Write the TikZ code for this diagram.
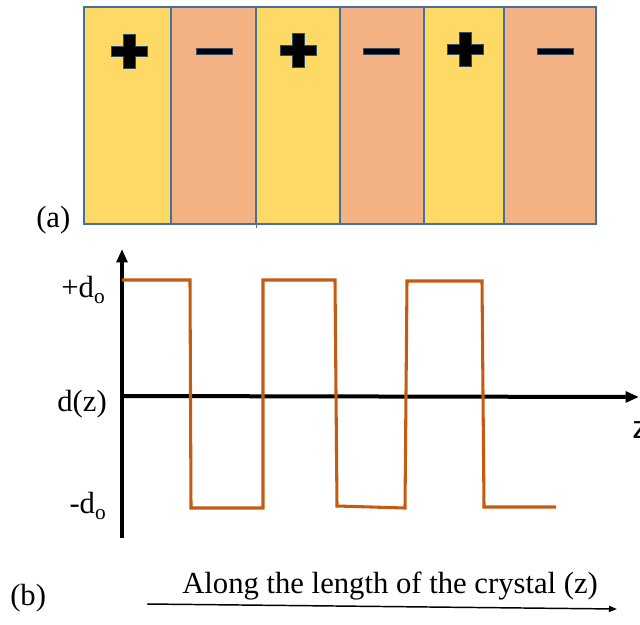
\documentclass[tikz,border=0pt]{standalone}
\usepackage{fontspec}
\setmainfont{Liberation Serif}
\newfontfamily\zfont{Liberation Sans}
\usetikzlibrary{arrows.meta}
\definecolor{stripeY}{HTML}{FFD966}
\definecolor{stripeO}{HTML}{F4B183}
\definecolor{edgeB}{HTML}{41719C}
\definecolor{waveC}{HTML}{C55A11}
\tikzset{
  stripe/.style={draw=edgeB, line width=0.8pt},
  signmark/.style={fill=black, draw=edgeB!70!black, line width=0.6pt},
  lbl/.style={inner sep=0pt, font=\fontsize{23}{26}\selectfont},
  axisline/.style={line width=3pt, -{Triangle[length=10pt,width=8pt]}},
  wave/.style={draw=waveC, line width=2.3pt, line join=miter}
}
\newcommand{\subo}{\raisebox{-4.5pt}{\fontsize{16}{16}\selectfont o}}
\newcommand{\plusat}[2]{%
  \fill[signmark] ({#1-18},{#2-5}) -- ({#1-6},{#2-5}) -- ({#1-6},{#2-17}) -- ({#1+6},{#2-17}) -- ({#1+6},{#2-5}) -- ({#1+18},{#2-5}) -- ({#1+18},{#2+5}) -- ({#1+6},{#2+5}) -- ({#1+6},{#2+17}) -- ({#1-6},{#2+17}) -- ({#1-6},{#2+5}) -- ({#1-18},{#2+5}) -- cycle;}
\newcommand{\minusat}[3]{%
  \fill[signmark] (#1,{#3-3}) rectangle (#2,{#3+3});}
\begin{document}
\begin{tikzpicture}[x=0.75pt,y=-0.75pt]
\useasboundingbox (0,0) rectangle (640,625);
% (a) stripes
\filldraw[stripe, fill=stripeY] (84,7) rectangle (171,224);
\filldraw[stripe, fill=stripeO] (171,7) rectangle (256,224);
\filldraw[stripe, fill=stripeY] (256,7) rectangle (340,224);
\filldraw[stripe, fill=stripeO] (340,7) rectangle (424,224);
\filldraw[stripe, fill=stripeY] (424,7) rectangle (504,224);
\filldraw[stripe, fill=stripeO] (504,7) rectangle (596,224);
\draw[draw=edgeB, line width=0.6pt] (256,224) -- (256,228);
\plusat{129}{51}
\plusat{298}{50}
\plusat{465}{49}
\minusat{196}{232}{51}
\minusat{363}{399}{51}
\minusat{537}{573}{51}
\node[lbl, anchor=base west] (la) at (36,227) {(a)};
% (b) axes
\coordinate (yb) at (122,538);
\coordinate (yt) at (122,249);
\coordinate (xl) at (122,396);
\coordinate (xr) at (639,397);
\draw[axisline] (yb) -- (yt);
\draw[axisline] (xl) -- (xr);
% wave
\draw[wave] (122,280) -- (190,280) -- (191,508) -- (263,508) -- (263,280) -- (335,280) -- (337,506) -- (405,508) -- (407,281) -- (482,281) -- (484,507) -- (556,507);
% labels
\node[lbl, anchor=base east] (pd) at (105,297) {+d\subo};
\node[lbl, anchor=base east] (dz) at (107,411) {d(z)};
\node[lbl, anchor=base east] (md) at (106,513) {-d\subo};
\node[inner sep=0pt, anchor=north west, font=\zfont\fontsize{24}{26}\selectfont] (zl) at (632,421) {z};
\node[lbl, anchor=base west] (lb) at (10,605) {(b)};
\node[lbl, anchor=base west] (along) at (182,593) {Along the length of the crystal (z)};
\coordinate (al) at (147,604);
\coordinate (ar) at (617,609);
\draw[line width=1.1pt, -{Triangle[length=6pt,width=4.5pt]}] (al) -- (ar);
\end{tikzpicture}
\end{document}
